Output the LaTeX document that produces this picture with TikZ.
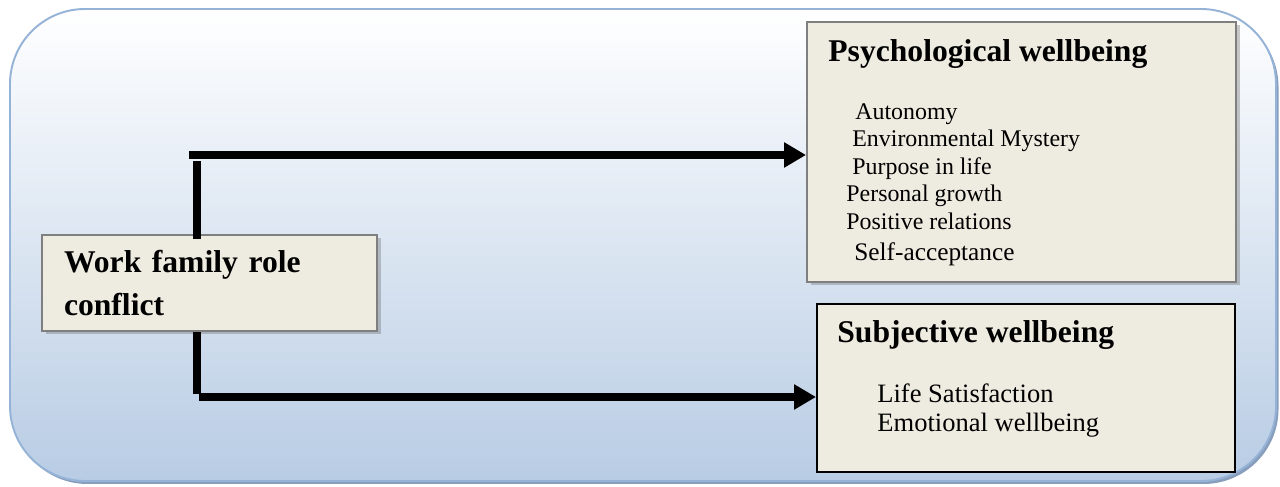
\documentclass[tikz,border=0pt]{standalone}
\usepackage{fontspec}
\setmainfont{Liberation Serif}
\usetikzlibrary{arrows.meta, shadows, positioning}
\definecolor{boxfill}{RGB}{238,236,225}
\definecolor{boxline}{RGB}{127,127,127}
\definecolor{bgline}{RGB}{149,179,215}
\definecolor{bgshade}{RGB}{184,204,228}
\definecolor{bgshadow}{RGB}{137,158,188}
\tikzstyle{panel} = [rectangle, fill=boxfill, draw=boxline, line width=1.1pt, drop shadow={shadow xshift=0.07cm, shadow yshift=-0.07cm, fill=black!60, opacity=0.35}]
\tikzstyle{plainpanel} = [rectangle, fill=boxfill, draw=black, line width=1.1pt]
\tikzstyle{heading} = [inner sep=0pt, anchor=base west, font=\bfseries\fontsize{18}{24.4}\selectfont]
\tikzstyle{items} = [inner sep=0pt, anchor=base west]
\tikzstyle{bar} = [line width=4pt]
\tikzstyle{arrow} = [line width=4pt, -{Triangle[length=0.44cm, width=0.48cm]}]

\begin{document}
\begin{tikzpicture}
    \useasboundingbox (0,0) rectangle (25.6,9.74);
    % Background panel
    \fill [bgshadow, rounded corners=1.5cm] (0.25,0.06) rectangle (25.57,9.5);
    \draw [bgline, line width=1.1pt, rounded corners=1.5cm, top color=white, bottom color=bgshade] (0.2,0.12) rectangle (25.52,9.56);

    % Place nodes
    \node (wf) [panel, text width=5.82cm, align=left, inner xsep=0.44cm, inner ysep=0pt, minimum height=1.92cm, font=\bfseries\fontsize{18}{24.4}\selectfont] at (4.19,4.08) {Work family role\\conflict};
    \node (psy) [panel, minimum width=8.58cm, minimum height=5.2cm] at (20.43,6.70) {};
    \node (subj) [plainpanel, minimum width=8.36cm, minimum height=3.36cm] at (20.52,1.98) {};

    \node (psytitle) [heading, xshift=0.44cm, yshift=-0.8cm] at (psy.north west) {Psychological wellbeing};
    \node (psyitems) [items, xshift=0.8cm, yshift=-1.96cm, font=\fontsize{13.6}{15.7}\selectfont] at (psy.north west) {\begin{tabular}[t]{@{}l@{}}
        \hspace*{0.18cm}Autonomy\\
        \hspace*{0.12cm}Environmental Mystery\\
        \hspace*{0.12cm}Purpose in life\\
        Personal growth\\
        Positive relations\\[0.08cm]
        \hspace*{0.16cm}{\fontsize{14.4}{16}\selectfont Self-acceptance}
    \end{tabular}};
    \node (subjtitle) [heading, xshift=0.42cm, yshift=-0.78cm] at (subj.north west) {Subjective wellbeing};
    \node (subjitems) [items, xshift=1.22cm, yshift=-1.98cm, font=\fontsize{15.1}{17}\selectfont] at (subj.north west) {\begin{tabular}[t]{@{}l@{}}
        Life Satisfaction\\
        Emotional wellbeing
    \end{tabular}};

    % Connect nodes with arrows
    \coordinate (upstart) at (3.78,6.64);
    \coordinate (upturn) at (3.94,6.52);
    \coordinate (lowturn) at (3.94,1.86);
    \coordinate (lowstart) at (3.98,1.80);
    \draw [bar] ([yshift=-0.1cm]wf.north -| upturn) -- (upturn);
    \draw [arrow] (upstart) -- (upstart -| psy.west);
    \draw [bar] (wf.south -| lowturn) -- (lowturn);
    \draw [arrow] (lowstart) -- (lowstart -| subj.west);
\end{tikzpicture}
\end{document}
